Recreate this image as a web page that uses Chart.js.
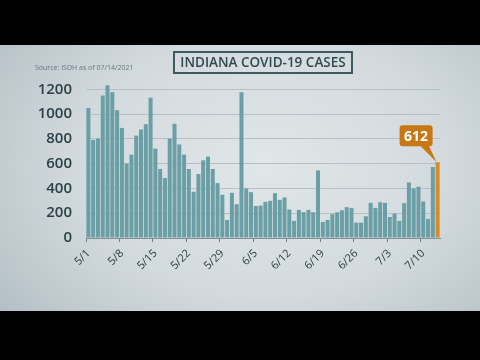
<!DOCTYPE html>
<html>
<head>
<meta charset="utf-8">
<script src="https://cdn.jsdelivr.net/npm/chart.js"></script>
<style>
  html, body { margin:0; padding:0; width:480px; height:360px; background:#000; overflow:hidden; }
  #bg { position:absolute; left:0; top:45px; width:480px; height:266px;
        background: radial-gradient(ellipse 70% 90% at 55% 45%, #e1e6e8 0%, #d3dadd 55%, #b3bfc5 100%); }
  #wrap { position:absolute; left:0; top:0; width:480px; height:360px; }
</style>
</head>
<body>
<div id="bg"></div>
<div id="wrap"><canvas id="covidChart" width="480" height="360"></canvas></div>
<script>
const cases = [
  1050, 792, 803, 1151, 1233, 1176, 1032, 889, 600, 673,
  827, 876, 919, 1133, 722, 557, 484, 803, 922, 755,
  673, 557, 373, 516, 627, 657, 557, 443, 349, 146,
  365, 273, 1176, 400, 370, 259, 262, 292, 300, 362,
  308, 327, 230, 138, 227, 208, 227, 208, 546, 130,
  146, 192, 208, 224, 249, 243, 124, 124, 176, 284,
  243, 289, 284, 170, 197, 138, 281, 449, 400, 414,
  295, 154, 573, 612
];
const yTicks = [0, 200, 400, 600, 800, 1000, 1200];

// day labels m/d starting 5/1
const days = [];
for (let i = 0; i < cases.length; i++) {
  const d = new Date(2021, 4, 1 + i);
  days.push((d.getMonth() + 1) + "/" + d.getDate());
}

const TEAL = "#6a9fa5";
const ORANGE = "#d8892c";
const INK = "#2b4148";

const overlay = {
  id: "overlay",
  afterDraw(chart) {
    const ctx = chart.ctx;
    ctx.save();
    // source line
    ctx.fillStyle = "#66777d";
    ctx.font = "7px 'Open Sans'";
    ctx.textBaseline = "middle";
    ctx.textAlign = "left";
    ctx.fillText("Source: ISDH as of 07/14/2021", 35, 68);

    // title box
    ctx.strokeStyle = "#3c5a5f";
    ctx.lineWidth = 2;
    ctx.strokeRect(174, 52, 178, 21);
    ctx.fillStyle = "#2f4a50";
    ctx.font = "600 13.5px 'Open Sans'";
    ctx.textAlign = "center";
    ctx.fillText("INDIANA COVID-19 CASES", 263, 63);

    // callout on last bar
    const meta = chart.getDatasetMeta(0);
    const last = meta.data[meta.data.length - 1];
    const bx = last.x - 38, by = last.y - 37, bw = 33, bh = 21;
    ctx.fillStyle = "#c87813";
    ctx.beginPath();
    ctx.roundRect(bx, by, bw, bh, 3);
    ctx.fill();
    ctx.beginPath();
    ctx.moveTo(bx + 20, by + bh - 1);
    ctx.lineTo(bx + 29, by + bh - 1);
    ctx.lineTo(last.x - 1, last.y);
    ctx.closePath();
    ctx.fill();
    ctx.fillStyle = "#ffffff";
    ctx.font = "700 14px 'Open Sans'";
    ctx.fillText(String(cases[cases.length - 1]), bx + bw / 2, by + bh / 2 + 1);
    ctx.restore();
  }
};

new Chart(document.getElementById("covidChart"), {
  type: "bar",
  data: {
    labels: days,
    datasets: [{
      data: cases,
      backgroundColor: cases.map((v, i) => i === cases.length - 1 ? ORANGE : TEAL),
      barPercentage: 0.84,
      categoryPercentage: 1.0
    }]
  },
  options: {
    responsive: false,
    animation: false,
    layout: { padding: { left: 0, right: 40, top: 77, bottom: 82 } },
    plugins: { legend: { display: false }, tooltip: { enabled: false } },
    scales: {
      x: {
        afterFit(scale) { scale.height = 40; },
        border: { display: true, color: "#7d8f94" },
        grid: {
          drawOnChartArea: false,
          tickLength: 4,
          color: ctx => ctx.index % 7 === 0 ? "#6f8287" : "rgba(0,0,0,0)"
        },
        ticks: {
          autoSkip: false,
          maxRotation: 45,
          minRotation: 45,
          padding: 5,
          color: INK,
          font: { family: "Open Sans", size: 11 },
          callback: (v, i) => i % 7 === 0 ? days[i] : ""
        }
      },
      y: {
        min: 0,
        max: 1300,
        afterFit(scale) { scale.width = 86; },
        afterBuildTicks(scale) { scale.ticks = yTicks.map(v => ({ value: v })); },
        border: { display: false },
        grid: { color: "#b6bfc3", drawTicks: false },
        ticks: {
          padding: 14,
          color: INK,
          font: { family: "Open Sans", size: 15, weight: "600" },
          callback: v => String(v)
        }
      }
    }
  },
  plugins: [overlay]
});
</script>
</body>
</html>
